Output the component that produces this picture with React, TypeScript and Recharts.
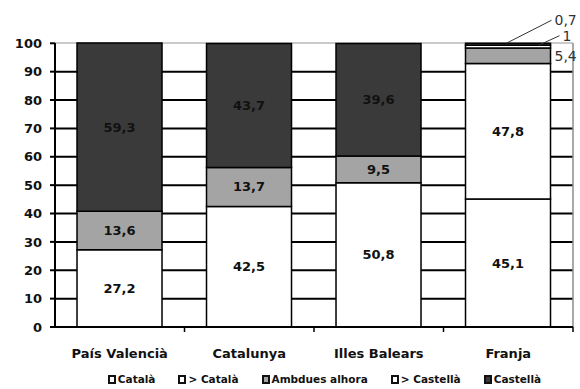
import React from 'react';
import * as Recharts from 'recharts';
import { BarChart, Bar, XAxis, YAxis, CartesianGrid, Legend, LabelList } from 'recharts';

// Language use by territory (%)
const regions = ['País Valencià', 'Catalunya', 'Illes Balears', 'Franja'];
const catala = [27.2, 42.5, 50.8, 45.1];
const mesCatala = [0, 0, 0, 47.8];
const ambdues = [13.6, 13.7, 9.5, 5.4];
const mesCastella = [0, 0, 0, 1];
const castella = [59.3, 43.7, 39.6, 0.7];
const yTicks = [0, 10, 20, 30, 40, 50, 60, 70, 80, 90, 100];
const gridValues = [10, 20, 30, 40, 50, 60, 70, 80, 90];

const seriesKeys = ['catala', 'mesCatala', 'ambdues', 'mesCastella', 'castella'];
const seriesNames = ['Català', '> Català', 'Ambdues alhora', '> Castellà', 'Castellà'];
const seriesFills = ['#ffffff', '#ffffff', '#a4a4a4', '#ffffff', '#3a3a3a'];

const data = regions.map((region, i) => ({
  region,
  catala: catala[i],
  mesCatala: mesCatala[i],
  ambdues: ambdues[i],
  mesCastella: mesCastella[i],
  castella: castella[i],
}));

const FONT = '"DejaVu Sans", Verdana, sans-serif';
const fmt = (v: number) => String(v).replace('.', ',');

// Where a thin segment's label goes when it does not fit inside the bar
const outsidePlacement: Record<string, { rise: number; startFrac: number; shift: number; line: boolean }> = {
  ambdues: { rise: 0, startFrac: 1, shift: 0, line: false },
  mesCastella: { rise: 11, startFrac: 0.86, shift: 8, line: true },
  castella: { rise: 24, startFrac: 0.48, shift: 0, line: true },
};

const makeLabel = (key: string) => (props: any) => {
  const { x, y, width, height, value } = props;
  const v = Number(value);
  if (!v) return null;
  const cx = Number(x) + Number(width) / 2;
  const cy = Number(y) + Number(height) / 2;
  if (v >= 6) {
    return (
      <text x={cx} y={cy} textAnchor="middle" dominantBaseline="central"
        fontFamily={FONT} fontWeight="bold" fontSize={13} fill="#111">
        {fmt(v)}
      </text>
    );
  }
  const p = outsidePlacement[key] || { rise: 0, startFrac: 1, shift: 0, line: false };
  const right = Number(x) + Number(width);
  const ty = cy - p.rise;
  return (
    <g>
      {p.line && (
        <line x1={Number(x) + Number(width) * p.startFrac} y1={Number(y)}
          x2={right + 1 + p.shift} y2={ty}
          stroke="#333" strokeWidth={1} />
      )}
      <text x={right + 4 + p.shift} y={ty} dominantBaseline="central"
        fontFamily={FONT} fontSize={14} fill="#333">
        {fmt(v)}
      </text>
    </g>
  );
};

// Plot border (top/right) and the tick marks at category boundaries
function PlotFrame() {
  const hook = (Recharts as any).usePlotArea;
  const area = typeof hook === 'function' ? hook() : null;
  if (!area) return null;
  const { x, y, width, height } = area;
  const bottom = y + height;
  const step = width / regions.length;
  return (
    <g>
      <line x1={x} y1={y} x2={x + width} y2={y} stroke="#b8b8b8" strokeWidth={1.5} />
      <line x1={x + width} y1={y} x2={x + width} y2={bottom} stroke="#8c8c8c" strokeWidth={1.5} />
      {regions.map((_, i) => (
        <line key={i} x1={x + (i + 1) * step} y1={bottom} x2={x + (i + 1) * step} y2={bottom + 5}
          stroke="#000" strokeWidth={1.5} />
      ))}
    </g>
  );
}

const LegendContent = () => (
  <div style={{ display: 'flex', justifyContent: 'center', gap: 23, height: 16, lineHeight: '16px',
    fontFamily: FONT, fontWeight: 'bold', fontSize: 10.5, color: '#111', paddingLeft: 76 }}>
    {seriesNames.map((name, i) => (
      <div key={name} style={{ display: 'flex', alignItems: 'center' }}>
        <span style={{ display: 'inline-block', width: 4, height: 5, border: '2px solid #111',
          background: seriesFills[i], marginRight: 2 }} />
        <span>{name}</span>
      </div>
    ))}
  </div>
);

export default function App() {
  return (
    <div style={{ position: 'absolute', left: 0, top: 0, width: 580, height: 389, background: '#fff' }}>
      <BarChart width={580} height={389} data={data} barCategoryGap="17%"
        margin={{ top: 43, right: 7, left: 0, bottom: 2 }}>
        <CartesianGrid vertical={false} horizontalValues={gridValues} stroke="#000" strokeWidth={2} />
        <PlotFrame />
        <XAxis dataKey="region" height={44} tickLine={false} axisLine={{ stroke: '#000', strokeWidth: 2 }}
          tick={{ fontFamily: FONT, fontWeight: 'bold', fontSize: 13, fill: '#111' }} tickMargin={16}
          interval={0} />
        <YAxis width={55} domain={[0, 100]} ticks={yTicks} interval={0}
          axisLine={{ stroke: '#000', strokeWidth: 2 }} tickLine={{ stroke: '#000', strokeWidth: 2 }}
          tickSize={5} tickMargin={8}
          tick={{ fontFamily: FONT, fontWeight: 'bold', fontSize: 13, fill: '#111' }} />
        <Legend verticalAlign="bottom" height={16} content={<LegendContent />} />
        {seriesKeys.map((key, i) => (
          <Bar key={key} dataKey={key} name={seriesNames[i]} stackId="a" fill={seriesFills[i]}
            stroke="#000" strokeWidth={1.5} isAnimationActive={false}>
            <LabelList dataKey={key} content={makeLabel(key)} />
          </Bar>
        ))}
      </BarChart>
    </div>
  );
}
